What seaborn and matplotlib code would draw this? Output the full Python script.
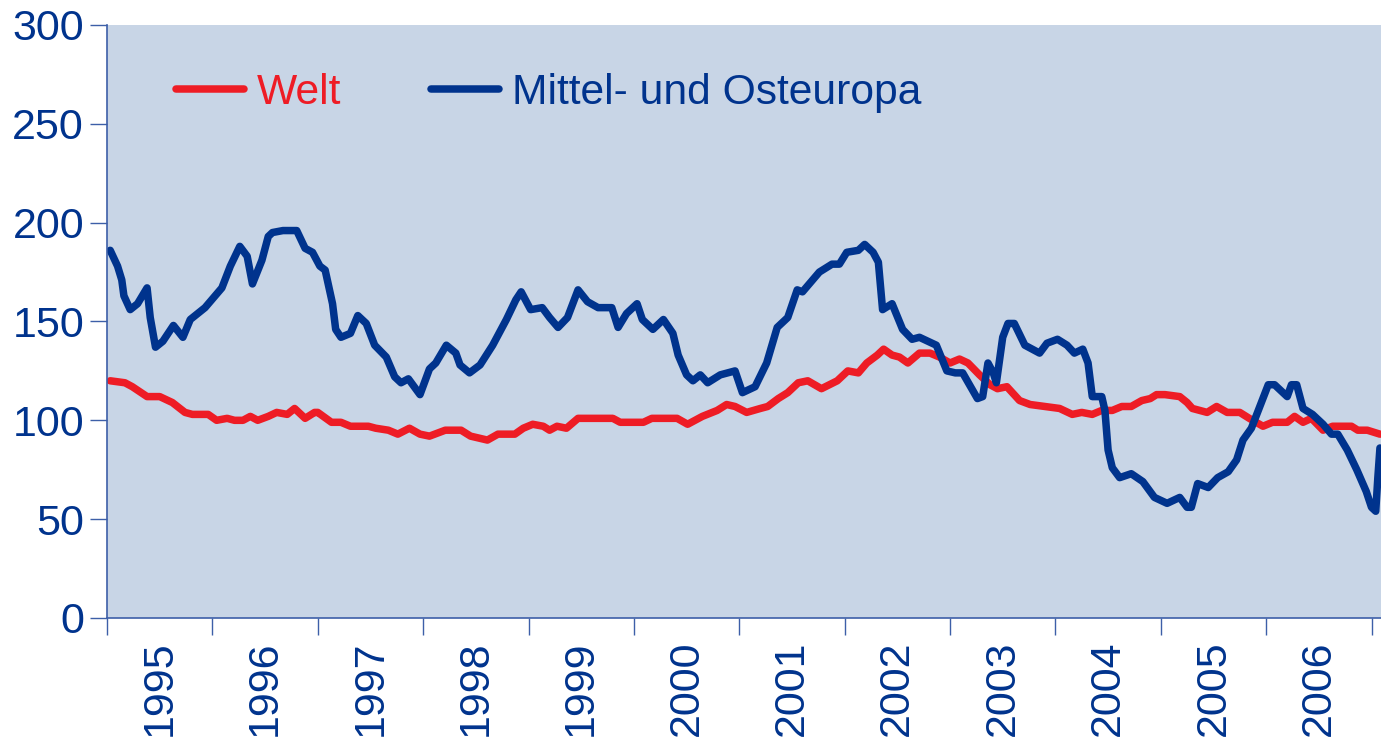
import numpy as np
import pandas as pd
import matplotlib
matplotlib.use("Agg")
import matplotlib.pyplot as plt
import seaborn as sns

# values (decimal year, index value)
welt_jahr = [1995.03, 1995.17, 1995.24, 1995.38, 1995.50, 1995.62, 1995.74, 1995.81, 1995.96,
             1996.04, 1996.14, 1996.21, 1996.29, 1996.36, 1996.43, 1996.53, 1996.61, 1996.71,
             1996.78, 1996.88, 1996.97, 1997.00, 1997.13, 1997.22, 1997.31, 1997.48, 1997.55,
             1997.67, 1997.76, 1997.87, 1997.97, 1998.06, 1998.21, 1998.36, 1998.45, 1998.61,
             1998.71, 1998.87, 1998.95, 1999.04, 1999.14, 1999.20, 1999.27, 1999.36, 1999.47,
             1999.80, 1999.87, 2000.09, 2000.17, 2000.41, 2000.51, 2000.65, 2000.79, 2000.88,
             2000.96, 2001.07, 2001.20, 2001.27, 2001.37, 2001.46, 2001.56, 2001.65, 2001.78,
             2001.93, 2002.03, 2002.13, 2002.21, 2002.31, 2002.37, 2002.45, 2002.52, 2002.60,
             2002.71, 2002.81, 2002.90, 2003.00, 2003.09, 2003.17, 2003.28, 2003.38, 2003.45,
             2003.54, 2003.66, 2003.76, 2003.90, 2004.04, 2004.16, 2004.25, 2004.35, 2004.44,
             2004.54, 2004.63, 2004.72, 2004.82, 2004.90, 2004.96, 2005.04, 2005.18, 2005.25,
             2005.30, 2005.44, 2005.53, 2005.63, 2005.75, 2005.84, 2005.97, 2006.06, 2006.20,
             2006.27, 2006.35, 2006.43, 2006.54, 2006.63, 2006.81, 2006.87, 2006.96, 2007.08]
welt_wert = [120, 119, 117, 112, 112, 109, 104, 103, 103,
             100, 101, 100, 100, 102, 100, 102, 104, 103,
             106, 101, 104, 104, 99, 99, 97, 97, 96,
             95, 93, 96, 93, 92, 95, 95, 92, 90,
             93, 93, 96, 98, 97, 95, 97, 96, 101,
             101, 99, 99, 101, 101, 98, 102, 105, 108,
             107, 104, 106, 107, 111, 114, 119, 120, 116,
             120, 125, 124, 129, 133, 136, 133, 132, 129,
             134, 134, 132, 129, 131, 129, 123, 118, 116,
             117, 110, 108, 107, 106, 103, 104, 103, 105,
             105, 107, 107, 110, 111, 113, 113, 112, 109,
             106, 104, 107, 104, 104, 101, 97, 99, 99,
             102, 99, 101, 95, 97, 97, 95, 95, 93]

moe_jahr = [1995.03, 1995.10, 1995.14, 1995.16, 1995.22, 1995.29, 1995.38, 1995.41, 1995.46,
            1995.53, 1995.63, 1995.72, 1995.79, 1995.93, 1996.09, 1996.17, 1996.26, 1996.33,
            1996.38, 1996.47, 1996.53, 1996.57, 1996.67, 1996.80, 1996.88, 1996.95, 1997.02,
            1997.07, 1997.14, 1997.17, 1997.22, 1997.31, 1997.38, 1997.46, 1997.54, 1997.65,
            1997.73, 1997.79, 1997.86, 1997.97, 1998.06, 1998.12, 1998.22, 1998.31, 1998.35,
            1998.44, 1998.54, 1998.66, 1998.79, 1998.88, 1998.93, 1999.02, 1999.13, 1999.20,
            1999.28, 1999.37, 1999.47, 1999.56, 1999.66, 1999.79, 1999.85, 1999.93, 2000.03,
            2000.08, 2000.18, 2000.28, 2000.37, 2000.42, 2000.50, 2000.56, 2000.63, 2000.70,
            2000.82, 2000.96, 2001.03, 2001.15, 2001.26, 2001.36, 2001.46, 2001.55, 2001.60,
            2001.76, 2001.88, 2001.95, 2002.02, 2002.13, 2002.19, 2002.27, 2002.32, 2002.36,
            2002.45, 2002.55, 2002.64, 2002.71, 2002.87, 2002.97, 2003.05, 2003.12, 2003.26,
            2003.31, 2003.36, 2003.41, 2003.44, 2003.50, 2003.55, 2003.61, 2003.71, 2003.85,
            2003.92, 2004.02, 2004.11, 2004.18, 2004.26, 2004.31, 2004.35, 2004.44, 2004.47,
            2004.50, 2004.54, 2004.61, 2004.72, 2004.83, 2004.94, 2005.06, 2005.18, 2005.25,
            2005.29, 2005.35, 2005.45, 2005.54, 2005.64, 2005.72, 2005.78, 2005.86, 2005.94,
            2006.02, 2006.08, 2006.20, 2006.24, 2006.29, 2006.35, 2006.44, 2006.54, 2006.62,
            2006.68, 2006.77, 2006.86, 2006.95, 2007.00, 2007.04, 2007.06, 2007.08]
moe_wert = [186, 178, 171, 163, 156, 159, 167, 152, 137,
            140, 148, 142, 151, 157, 167, 178, 188, 183,
            169, 181, 193, 195, 196, 196, 187, 185, 178,
            176, 159, 146, 142, 144, 153, 149, 138, 132,
            122, 119, 121, 113, 126, 129, 138, 134, 128,
            124, 128, 138, 151, 161, 165, 156, 157, 152,
            147, 152, 166, 160, 157, 157, 147, 154, 159,
            151, 146, 151, 144, 133, 123, 120, 123, 119,
            123, 125, 114, 117, 129, 147, 152, 166, 165,
            175, 179, 179, 185, 186, 189, 185, 180, 156,
            159, 146, 141, 142, 138, 125, 124, 124, 111,
            112, 129, 124, 119, 142, 149, 149, 138, 134,
            139, 141, 138, 134, 136, 129, 112, 112, 105,
            85, 76, 71, 73, 69, 61, 58, 61, 56,
            56, 68, 66, 71, 74, 80, 90, 96, 107,
            118, 118, 112, 118, 118, 106, 103, 98, 93,
            93, 85, 75, 64, 56, 54, 71, 86]

serien = ["Welt", "Mittel- und Osteuropa"]
farben = ["#EE1C25", "#00338D"]
jahre = list(range(1995, 2007))

df = pd.concat([
    pd.DataFrame({"Jahr": welt_jahr, "Wert": welt_wert, "Serie": serien[0]}),
    pd.DataFrame({"Jahr": moe_jahr, "Wert": moe_wert, "Serie": serien[1]}),
])

sns.set_theme(style="white")
plt.rcParams["font.family"] = ["Liberation Sans", "DejaVu Sans"]

textblau = "#00338D"
achsblau = "#3D5FA8"

fig = plt.figure(figsize=(13.81, 7.41), dpi=100)
ax = fig.add_axes([0.0775, 0.166, 0.9225, 0.8003])
ax.set_facecolor("#C8D5E6")

sns.lineplot(data=df, x="Jahr", y="Wert", hue="Serie", hue_order=serien,
             palette=farben, linewidth=5.4, ax=ax, sort=False, estimator=None)
for line in ax.get_lines():
    line.set_solid_joinstyle("round")
    line.set_solid_capstyle("round")

ax.set_xlim(1995, 2007.09)
ax.set_ylim(0, 300)
ax.set_yticks(range(0, 301, 50))
ax.set_xticks(range(1995, 2008))
ax.set_xticklabels([])
ax.set_xticks([j + 0.5 for j in jahre], minor=True)
ax.set_xticklabels([str(j) for j in jahre], minor=True, rotation=90,
                   fontsize=31, color=textblau)
ax.tick_params(axis="x", which="major", bottom=True, length=12, width=1,
               color=achsblau, direction="out")
ax.tick_params(axis="x", which="minor", bottom=True, length=0, pad=16)
ax.tick_params(axis="y", left=True, length=12, width=1, color=achsblau, direction="out",
               labelsize=31, labelcolor=textblau, pad=4.5)
ax.set_xlabel("")
ax.set_ylabel("")

for s in ["top", "right"]:
    ax.spines[s].set_visible(False)
for s in ["left", "bottom"]:
    ax.spines[s].set_color(achsblau)
    ax.spines[s].set_linewidth(1.2)

leg = ax.legend(ncol=2, loc="center left", bbox_to_anchor=(0.054, 0.885), frameon=False,
                fontsize=30.7, handlelength=1.6, handletextpad=0.3, columnspacing=2.1,
                borderpad=0, borderaxespad=0)
for txt, f in zip(leg.get_texts(), farben):
    txt.set_color(f)
for line in leg.get_lines():
    line.set_linewidth(5.4)
    line.set_solid_capstyle("round")

fig.savefig("out.png", dpi=100)
